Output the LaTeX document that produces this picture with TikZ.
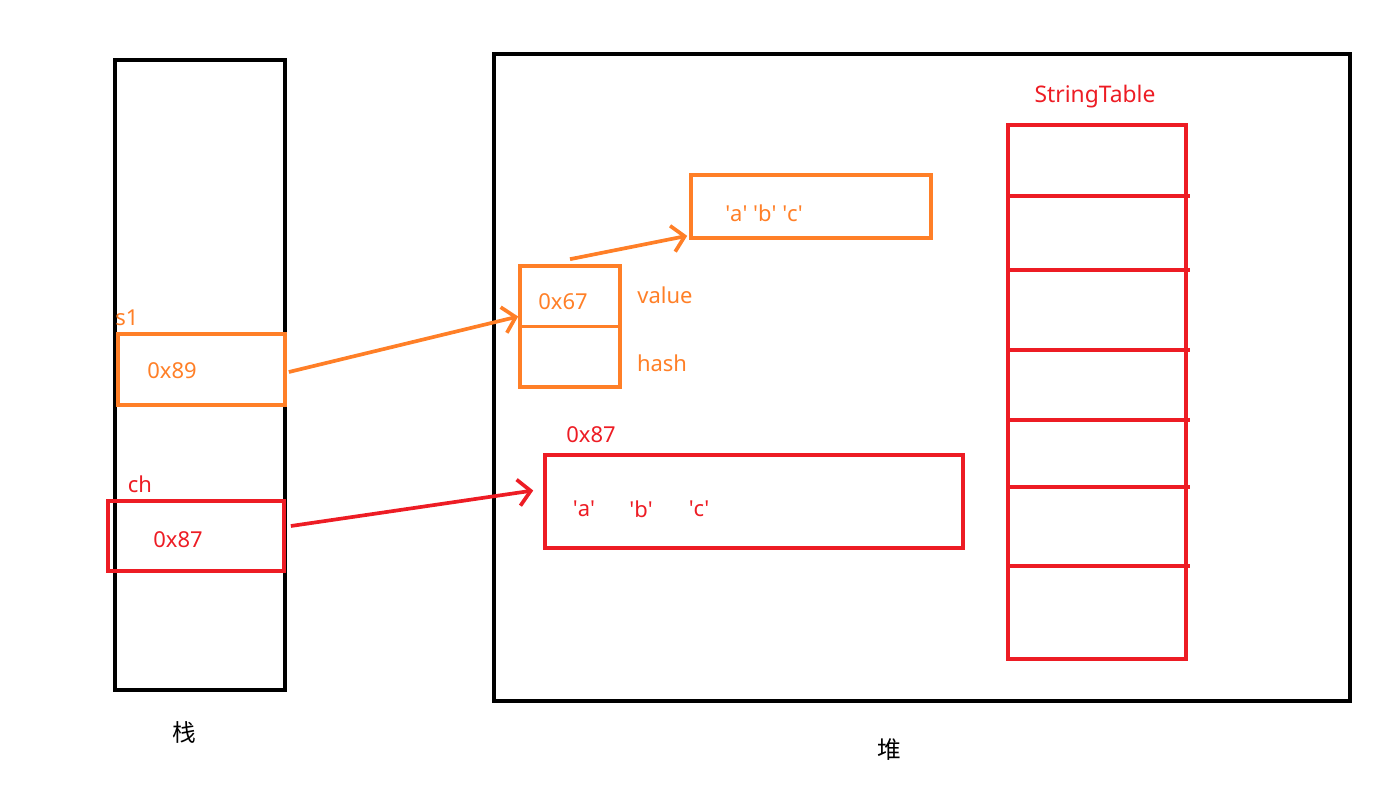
\documentclass[tikz,border=0pt]{standalone}
\usepackage{fontspec}
\setmainfont{Noto Sans}
\newfontfamily\cjk{Noto Sans CJK SC}
\usetikzlibrary{arrows.meta}
\definecolor{paintorange}{RGB}{255,127,39}
\definecolor{paintred}{RGB}{237,28,36}
\newcommand{\sq}[1]{\textquotesingle#1\textquotesingle}

\begin{document}
\begin{tikzpicture}[x=0.02cm,y=-0.02cm,line width=2.1pt,
	cell/.style={draw,inner sep=0pt},
	lbl/.style={inner sep=0pt,font=\fontsize{12.5}{15}\selectfont},
	ptr/.style={->,>={Straight Barb[length=7pt,width=15pt]}}]
	\useasboundingbox (0,0) rectangle (1386,785);

	%STACK AND HEAP
	\node[cell,minimum width=3.4cm,minimum height=12.6cm] (stack) at (200,375) {};
	\node[lbl,font=\cjk\fontsize{13.5}{15}\selectfont] (stacklbl) at (184,732) {栈};
	\node[cell,minimum width=17.12cm,minimum height=12.94cm] (heap) at (922,377.5) {};
	\node[lbl,font=\cjk\fontsize{13.5}{15}\selectfont] (heaplbl) at (889,750) {堆};

	%STACK SLOTS
	\node[cell,paintorange,minimum width=3.34cm,minimum height=1.42cm] (s1) at (201.5,369.5) {};
	\node[lbl,paintorange] (s1name) at (127,318) {s1};
	\node[lbl,paintorange] (s1val) at (172,371) {0x89};
	\node[cell,paintred,minimum width=3.52cm,minimum height=1.4cm] (ch) at (196,536) {};
	\node[lbl,paintred] (chname) at (140,484) {ch};
	\node[lbl,paintred] (chval) at (178,540) {0x87};

	%STRING OBJECT
	\node[cell,paintorange,minimum width=2cm,minimum height=2.42cm] (obj) at (570,326.5) {};
	\draw[paintorange] (obj.west) -- (obj.east);
	\node[lbl,paintorange] (objval) at (563,302) {0x67};
	\node[lbl,paintorange] (valuelbl) at (665,295) {value};
	\node[lbl,paintorange] (hashlbl) at (662,363) {hash};
	\node[cell,paintorange,minimum width=4.8cm,minimum height=1.26cm] (arr) at (811,206.5) {};
	\node[lbl,paintorange] (arrtxt) at (764,213) {\sq{a} \sq{b} \sq{c}};

	%CHAR ARRAY
	\node[lbl,paintred] (charsname) at (591,435) {0x87};
	\node[cell,paintred,minimum width=8.36cm,minimum height=1.86cm] (chars) at (754,501.5) {};
	\node[lbl,paintred] (ca) at (584,509) {\sq{a}};
	\node[lbl,paintred] (cb) at (641,509) {\sq{b}};
	\node[lbl,paintred] (cc) at (699,509) {\sq{c}};

	%STRINGTABLE
	\node[lbl,paintred,font=\fontsize{13}{16}\selectfont] (tblname) at (1095,97) {StringTable};
	\node[cell,paintred,minimum width=3.56cm,minimum height=10.68cm] (tbl) at (1097,392) {};
	\foreach \y in {196,270,350,420,487,566}
		\draw[paintred] (1008,\y) -- (1190,\y);

	%ARROWS
	\draw[ptr,paintorange] ([shift={(0.04cm,-0.05cm)}]s1.east) -- ([yshift=0.2cm]obj.west);
	\draw[ptr,paintorange] ([yshift=0.1cm]obj.north) -- ([shift={(-0.04cm,0.08cm)}]arr.south west);
	\draw[ptr,paintred] ([shift={(0.1cm,0.2cm)}]ch.east) -- ([shift={(-0.2cm,0.22cm)}]chars.west);
\end{tikzpicture}
\end{document}
